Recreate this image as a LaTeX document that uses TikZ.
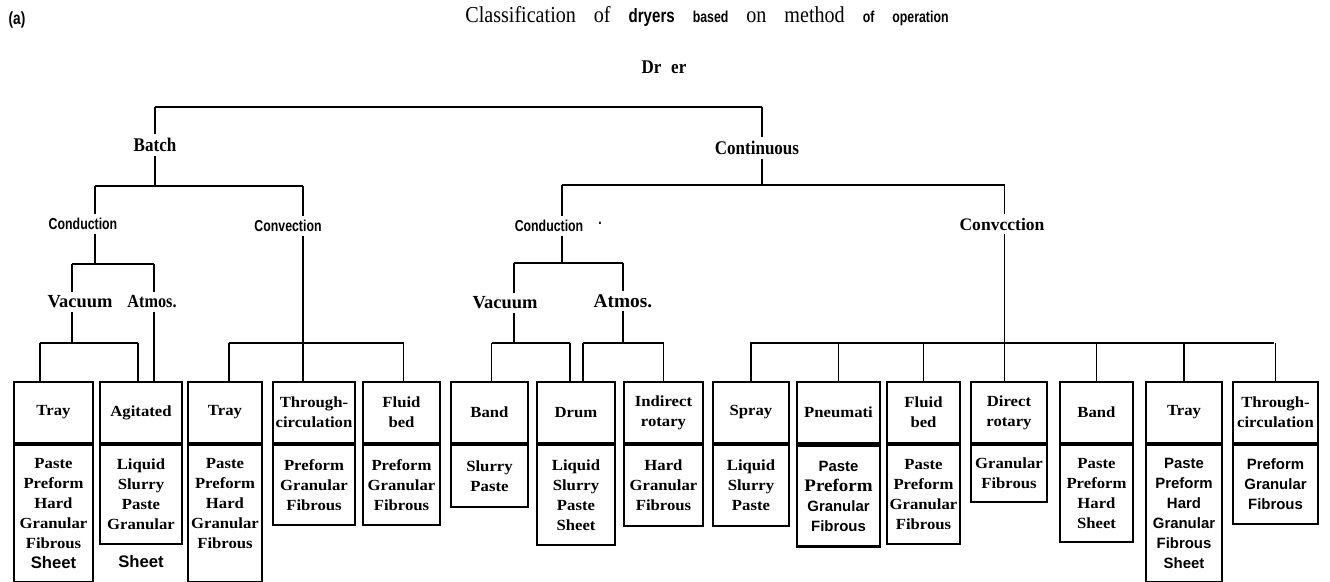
\documentclass[tikz,border=0pt]{standalone}
\usepackage{fontspec}
\setmainfont{Liberation Serif}
\setsansfont{Liberation Sans}
\newfontfamily\serifnarrow{Liberation Serif}[FakeStretch=0.88]
\newfontfamily\serifwide{Liberation Serif}[FakeStretch=1.08]
\newfontfamily\sansnarrow{Liberation Sans}[FakeStretch=0.78]
\usetikzlibrary{positioning}

\newcommand{\boxfont}{\serifwide\bfseries\fontsize{8.8}{11.38}\selectfont}
\newcommand{\sansword}[1]{{\sffamily\bfseries\fontsize{8.5}{11.38}\selectfont #1}}
\newcommand{\tgap}{\hspace{0.36cm}}

\begin{document}
\begin{tikzpicture}[x=0.02cm, y=-0.02cm,
  bar/.style={line width=1.7pt},
  bar2/.style={line width=1.3pt},
  stem/.style={line width=0.8pt},
  head/.style={draw, line width=1.1pt, minimum height=1.22cm, inner sep=0pt, align=center, font=\boxfont},
  body/.style={draw, line width=1.1pt, inner sep=0pt, align=center, font=\boxfont},
  serlab/.style={inner sep=2pt, font=\serifnarrow\bfseries\fontsize{11}{13}\selectfont},
  vaclab/.style={inner sep=2pt, font=\bfseries\fontsize{10.5}{12}\selectfont},
  sanlab/.style={inner sep=2pt, font=\sansnarrow\bfseries\fontsize{9}{11}\selectfont}]
  \useasboundingbox (0,0) rectangle (1330,582);

  % heading
  \node[sanlab, font=\sansnarrow\bfseries\fontsize{10}{12}\selectfont] (tag) at (17,20) {(a)};
  \node[font=\serifnarrow\fontsize{13}{15}\selectfont] (title) at (707,16)
    {Classification\tgap of\tgap{\sansnarrow\bfseries\fontsize{11}{13}\selectfont dryers}\tgap{\sansnarrow\bfseries\fontsize{9}{13}\selectfont based}\tgap on\tgap method\tgap{\sansnarrow\bfseries\fontsize{9}{13}\selectfont of\tgap operation}};
  \node[serlab] (dryer) at (664,67) {Dr\hspace{0.5em}er};

  % labels of the tree
  \node[serlab] (batch) at (155,145) {Batch};
  \node[serlab] (cont) at (757,148) {Continuous};
  \node[sanlab] (bcond) at (83,224) {Conduction};
  \node[sanlab] (bconv) at (288,226) {Convection};
  \node[sanlab] (ccond) at (549,226) {Conduction};
  \node[sanlab] (ccond-dot) at (600,223) {.};
  \node[serlab, font=\rmfamily\bfseries\fontsize{10}{12}\selectfont] (cconv) at (1002,224) {Convcction};
  \node[vaclab] (bvac) at (80,302) {Vacuum};
  \node[vaclab, font=\serifnarrow\bfseries\fontsize{10.5}{12}\selectfont] (batm) at (152,302) {Atmos.};
  \node[vaclab] (cvac) at (505,303) {Vacuum};
  \node[vaclab, font=\rmfamily\bfseries\fontsize{11}{12}\selectfont] (catm) at (623,301) {Atmos.};

  % dryer types, batch side
  \node[head, minimum width=1.58cm] (btray) at (53.5,412.5) {Tray};
  \node[head, minimum width=1.64cm] (bagit) at (141,412.5) {Agitated};
  \node[head, minimum width=1.48cm] (btray2) at (225,412.5) {Tray};
  \node[head, minimum width=1.64cm] (bthru) at (314,412.5) {Through-\\circulation};
  \node[head, minimum width=1.54cm] (bfluid) at (401.5,412.5) {Fluid\\bed};
  % dryer types, continuous side
  \node[head, minimum width=1.54cm] (cband) at (489.5,412.5) {Band};
  \node[head, minimum width=1.56cm] (cdrum) at (576,412.5) {Drum};
  \node[head, minimum width=1.58cm] (cindir) at (663.5,412.5) {Indirect\\rotary};
  \node[head, minimum width=1.52cm] (cspray) at (751,412.5) {Spray};
  \node[head, minimum width=1.66cm, line width=1.6pt] (cpneu) at (838.5,412.5) {Pneumati};
  \node[head, minimum width=1.46cm] (cfluid) at (923.5,412.5) {Fluid\\bed};
  \node[head, minimum width=1.52cm] (cdirect) at (1009,412.5) {Direct\\rotary};
  \node[head, minimum width=1.46cm] (cband2) at (1096.5,412.5) {Band};
  \node[head, minimum width=1.52cm] (ctray) at (1184,412.5) {Tray};
  \node[head, minimum width=1.70cm] (cthru) at (1275.5,412.5) {Through-\\circulation};

  % feed materials under each type
  \node[body, minimum width=1.58cm, minimum height=2.74cm, below=0pt of btray] (btray-b)
    {Paste\\Preform\\Hard\\Granular\\Fibrous\\\sansword{\fontsize{9.5}{11.38}\selectfont Sheet}};
  \node[body, minimum width=1.64cm, minimum height=1.98cm, below=0pt of bagit] (bagit-b)
    {Liquid\\Slurry\\Paste\\Granular};
  \node[inner sep=1pt] (bagit-x) at (141,562) {\sansword{\fontsize{9.5}{11.38}\selectfont Sheet}};
  \node[body, minimum width=1.48cm, minimum height=2.74cm, below=0pt of btray2] (btray2-b)
    {Paste\\Preform\\Hard\\Granular\\Fibrous\\\mbox{}};
  \node[body, minimum width=1.64cm, minimum height=1.60cm, below=0pt of bthru] (bthru-b)
    {Preform\\Granular\\Fibrous};
  \node[body, minimum width=1.54cm, minimum height=1.60cm, below=0pt of bfluid] (bfluid-b)
    {Preform\\Granular\\Fibrous};
  \node[body, minimum width=1.54cm, minimum height=1.24cm, below=0pt of cband] (cband-b)
    {Slurry\\Paste};
  \node[body, minimum width=1.56cm, minimum height=2.00cm, below=0pt of cdrum] (cdrum-b)
    {Liquid\\Slurry\\Paste\\Sheet};
  \node[body, minimum width=1.58cm, minimum height=1.62cm, below=0pt of cindir] (cindir-b)
    {Hard\\Granular\\Fibrous};
  \node[body, minimum width=1.52cm, minimum height=1.62cm, below=0pt of cspray] (cspray-b)
    {Liquid\\Slurry\\Paste};
  \node[body, minimum width=1.66cm, minimum height=2.02cm, line width=1.6pt, below=0pt of cpneu] (cpneu-b)
    {\sansword{Paste}\\{\serifwide\bfseries\fontsize{10}{11.38}\selectfont Preform}\\\sansword{Granular}\\\sansword{Fibrous}};
  \node[body, minimum width=1.46cm, minimum height=1.98cm, below=0pt of cfluid] (cfluid-b)
    {Paste\\Preform\\Granular\\Fibrous};
  \node[body, minimum width=1.52cm, minimum height=1.14cm, below=0pt of cdirect] (cdirect-b)
    {Granular\\Fibrous};
  \node[body, minimum width=1.46cm, minimum height=1.94cm, below=0pt of cband2] (cband2-b)
    {Paste\\Preform\\Hard\\Sheet};
  \node[body, minimum width=1.52cm, minimum height=2.74cm, below=0pt of ctray] (ctray-b)
    {\sansword{Paste}\\\sansword{Preform}\\\sansword{Hard}\\\sansword{Granular}\\\sansword{Fibrous}\\\sansword{Sheet}};
  \node[body, minimum width=1.70cm, minimum height=1.58cm, below=0pt of cthru] (cthru-b)
    {\sansword{Preform}\\\sansword{Granular}\\\sansword{Fibrous}};

  % first split: batch / continuous
  \coordinate (top-l) at (155,107);
  \coordinate (top-r) at (762,107);
  \draw[bar] (top-l) -- (top-r);
  \draw[stem] (top-l) -- (batch);
  \draw[stem] (top-r) -- (top-r |- cont.north);

  % batch side
  \coordinate (b-l) at (95,186);
  \coordinate (b-r) at (303,186);
  \draw[bar] (b-l) -- (b-r);
  \draw[stem] (batch) -- (batch |- b-l);
  \draw[stem] (b-l) -- (b-l |- bcond.north);
  \coordinate (bcd-l) at (72,264);
  \coordinate (bcd-r) at (154,264);
  \draw[stem] (b-l |- bcond.south) -- (b-l |- bcd-l);
  \draw[bar] (bcd-l) -- (bcd-r);
  \draw[stem] (bcd-l) -- (bcd-l |- bvac.north);
  \draw[stem] (bcd-r) -- (bcd-r |- batm.north);
  \coordinate (bvac-l) at (40,343);
  \coordinate (bvac-r) at (138,343);
  \draw[stem] (bcd-l |- bvac.south) -- (bcd-l |- bvac-l);
  \draw[bar2] (bvac-l) -- (bvac-r);
  \draw[stem] (bvac-l) -- (bvac-l |- btray.north);
  \draw[stem] (bvac-r) -- (bvac-r |- bagit.north);
  \draw[stem] (bcd-r |- batm.south) -- (bcd-r |- bagit.north);
  \draw[stem] (b-r) -- (b-r |- bconv.north);
  \coordinate (bcv-l) at (229,343);
  \coordinate (bcv-r) at (403.5,343);
  \draw[bar2] (b-r |- bconv.south) -- (b-r |- bcv-l);
  \draw[bar2] (bcv-l) -- (bcv-r);
  \draw[stem] (bcv-l) -- (bcv-l |- btray2.north);
  \draw[stem] (b-r |- bcv-l) -- (b-r |- bthru.north);
  \draw[stem] (bcv-r) -- (bcv-r |- bfluid.north);

  % continuous side
  \coordinate (c-l) at (562,185);
  \coordinate (c-r) at (1004.5,185);
  \draw[stem] (top-r |- cont.south) -- (top-r |- c-l);
  \draw[bar] (c-l) -- (c-r);
  \draw[stem] (c-l) -- (c-l |- ccond.north);
  \coordinate (ccd-l) at (514,263);
  \coordinate (ccd-r) at (623,263);
  \draw[stem] (c-l |- ccond.south) -- (c-l |- ccd-l);
  \draw[bar] (ccd-l) -- (ccd-r);
  \draw[stem] (ccd-l) -- (ccd-l |- cvac.north);
  \draw[stem] (ccd-r) -- (ccd-r |- catm.north);
  \coordinate (cvac-l) at (491.5,343);
  \coordinate (cvac-r) at (570,343);
  \draw[stem] (ccd-l |- cvac.south) -- (ccd-l |- cvac-l);
  \draw[bar2] (cvac-l) -- (cvac-r);
  \draw[stem] (cvac-l) -- (cvac-l |- cband.north);
  \draw[stem] (cvac-r) -- (cvac-r |- cdrum.north);
  \coordinate (catm-l) at (583,343);
  \coordinate (catm-r) at (663.5,343);
  \draw[stem] (ccd-r |- catm.south) -- (ccd-r |- catm-l);
  \draw[bar2] (catm-l) -- (catm-r);
  \draw[stem] (catm-l) -- (catm-l |- cdrum.north);
  \draw[stem] (catm-r) -- (catm-r |- cindir.north);
  \draw[stem] (c-r) -- (c-r |- cconv.north);
  \draw[stem] (c-r |- cconv.south) -- (c-r |- cdirect.north);
  \coordinate (ccv-l) at (750,343);
  \coordinate (ccv-r) at (1274,343);
  \draw[bar2] (ccv-l) -- (ccv-r);
  \foreach \n in {cspray,cpneu,cfluid,cband2,ctray,cthru}
    \draw[stem] (\n.north |- ccv-l) -- (\n.north);
\end{tikzpicture}
\end{document}
